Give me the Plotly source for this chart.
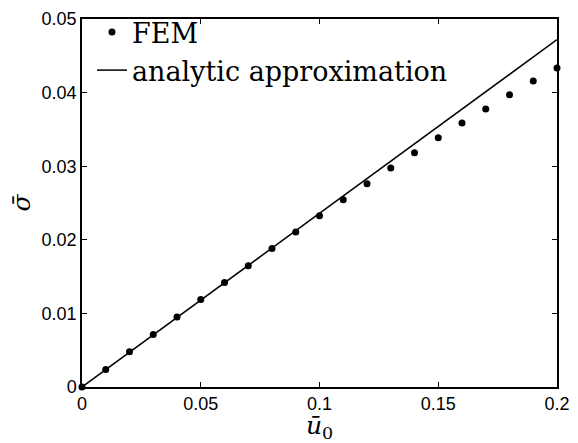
import plotly.graph_objects as go

# FEM results: normalised stress vs. normalised displacement
u0_fem = [0.00, 0.01, 0.02, 0.03, 0.04, 0.05, 0.06, 0.07, 0.08, 0.09, 0.10,
          0.11, 0.12, 0.13, 0.14, 0.15, 0.16, 0.17, 0.18, 0.19, 0.20]
sigma_fem = [0.0, 0.00237, 0.00478, 0.00715, 0.00952, 0.01188, 0.01421, 0.01649,
             0.01882, 0.02105, 0.02327, 0.02544, 0.02763, 0.02974, 0.03184,
             0.03386, 0.03588, 0.03776, 0.0397, 0.04158, 0.04333]

# Analytic (linear) approximation
u0_analytic = [0.0, 0.2]
sigma_analytic = [0.0, 0.0472]

x_ticks = [0, 0.05, 0.1, 0.15, 0.2]
x_tick_labels = ["0", "0.05", "0.1", "0.15", "0.2"]
y_ticks = [0, 0.01, 0.02, 0.03, 0.04, 0.05]
y_tick_labels = ["0", "0.01", "0.02", "0.03", "0.04", "0.05"]

fig = go.Figure()
fig.add_trace(go.Scatter(
    x=u0_fem, y=sigma_fem, mode="markers", name="FEM",
    marker=dict(color="black", size=7), cliponaxis=False,
))
fig.add_trace(go.Scatter(
    x=u0_analytic, y=sigma_analytic, mode="lines", name="analytic approximation",
    line=dict(color="black", width=1.5),
))

axis_common = dict(
    showgrid=False, zeroline=False, showline=True, linecolor="black", linewidth=1.5,
    mirror="ticks", ticks="inside", ticklen=5, tickcolor="black", tickwidth=1,
    tickfont=dict(family="Liberation Sans, Arial, sans-serif", size=18, color="black"),
)

fig.update_layout(
    width=578, height=443,
    margin=dict(l=82, r=16, t=8, b=56),
    paper_bgcolor="white", plot_bgcolor="white",
    showlegend=True,
    legend=dict(
        x=0.021, y=1.03, xanchor="left", yanchor="top",
        bgcolor="rgba(0,0,0,0)", borderwidth=0,
        font=dict(family="DejaVu Serif, serif", size=27, color="black"),
        tracegroupgap=0, itemwidth=30,
    ),
    xaxis=dict(
        range=[0, 0.2], tickvals=x_ticks, ticktext=x_tick_labels,
        title=dict(text="<i>ū</i><sub>0</sub>", standoff=0,
                   font=dict(family="DejaVu Serif, serif", size=25, color="black")),
        **axis_common,
    ),
    yaxis=dict(
        range=[0, 0.05], tickvals=y_ticks, ticktext=y_tick_labels,
        title=dict(text="<i>σ̄</i>", standoff=4,
                   font=dict(family="DejaVu Serif, serif", size=25, color="black")),
        **axis_common,
    ),
)

fig.write_html("out.html")
